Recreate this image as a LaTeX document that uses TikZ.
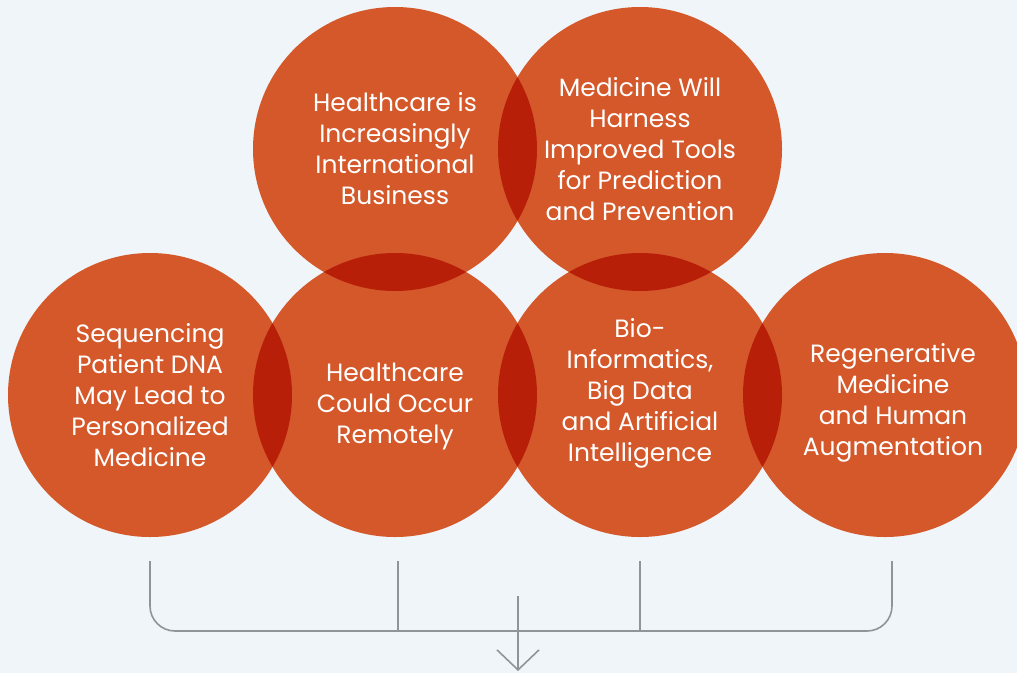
\documentclass[tikz,border=0pt]{standalone}
\usepackage{fontspec}
\setmainfont{Poppins}
\usetikzlibrary{arrows.meta}
\definecolor{bgblue}{RGB}{239,245,248}
\definecolor{rust}{RGB}{212,88,42}
\definecolor{darkrust}{RGB}{184,31,8}
\definecolor{bracketgray}{RGB}{142,148,152}
\begin{document}
\begin{tikzpicture}[x=1pt, y=-1pt, node distance=245pt,
  main/.style = {circle, fill=rust, minimum size=284pt, inner sep=0pt},
  txt/.style = {text=white, align=center, font=\fontsize{25}{31}\selectfont},
  lens/.style = {fill=darkrust},
  bracket/.style = {draw=bracketgray, line width=1.6pt}]
\fill[bgblue] (0,0) rectangle (1017,673);
\useasboundingbox (0,0) rectangle (1017,673);
\node[main] (1) at (150,395) {};
\node[main] (2) [right of=1] {};
\node[main] (3) [right of=2] {};
\node[main] (4) [right of=3] {};
\node[main] (5) [above of=2, node distance=246pt] {};
\node[main] (6) [above of=3, node distance=246pt] {};
% darker overlaps
\foreach \a/\b in {1/2, 2/3, 3/4, 5/6, 5/2, 6/3} {
  \begin{scope}
    \clip (\a.center) circle[radius=142pt];
    \fill[lens] (\b.center) circle[radius=142pt];
  \end{scope}
}
\node[txt] (t1) at (1) {Sequencing\\Patient DNA\\May Lead to\\Personalized\\Medicine};
\node[txt] (t2) [yshift=-11pt] at (2) {Healthcare\\Could Occur\\Remotely};
\node[txt] (t3) [yshift=2pt] at (3) {Bio-\\Informatics,\\Big Data\\and Artificial\\Intelligence};
\node[txt] (t4) [xshift=8pt, yshift=-8pt] at (4) {Regenerative\\Medicine\\and Human\\Augmentation};
\node[txt] (t5) at (5) {Healthcare is\\Increasingly\\International\\Business};
\node[txt] (t6) at (6) {Medicine Will\\Harness\\Improved Tools\\for Prediction\\and Prevention};
% bracket below
\coordinate (c1) at (150,561);
\coordinate (c2) at (398,561);
\coordinate (c3) at (640,561);
\coordinate (c4) at (892,561);
\coordinate (k2) at (398,631);
\coordinate (k3) at (640,631);
\coordinate (k4) at (892,631);
\coordinate (a1) at (518,596);
\coordinate (a2) at (518,671);
\draw[bracket, rounded corners=25pt] (c1) |- (k4) -- (c4);
\draw[bracket] (c2) -- (k2);
\draw[bracket] (c3) -- (k3);
\draw[bracket, -{Straight Barb[length=20pt, width=42pt]}] (a1) -- (a2);
\end{tikzpicture}
\end{document}
